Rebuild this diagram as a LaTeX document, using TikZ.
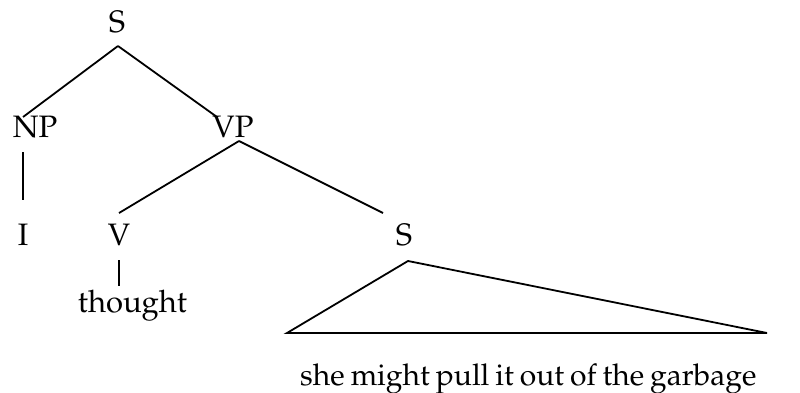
\documentclass[tikz,border=0pt]{standalone}
\usepackage[T1]{fontenc}
\usepackage{mathpazo}
\begin{document}
\begin{tikzpicture}[x=1pt,y=-1pt,
  lbl/.style={inner sep=0pt,anchor=base,font=\fontsize{31}{37}\selectfont},
  edge/.style={line width=1.8pt}]
\useasboundingbox (0,0) rectangle (800,393);
\node[lbl] (s0) at (117,33) {S};
\node[lbl] (np) at (35,138) {NP};
\node[lbl] (vp) at (233,138) {VP};
\node[lbl] (i) at (23,245) {I};
\node[lbl] (v) at (119,245) {V};
\node[lbl] (s1) at (404,245) {S};
\node[lbl] (th) at (132.5,312) {thought};
\node[lbl,anchor=base west,font=\fontsize{30}{36}\selectfont] (txt) at (300,385) {\spaceskip=6pt she might pull it out of the garbage};
\coordinate (apex) at (408,261);
\coordinate (tl) at (287,333);
\coordinate (tr) at (767,333);
\draw[edge] ([shift={(1,13)}]s0.base) -- ([shift={(-12,-21)}]np.base);
\draw[edge] ([shift={(1,13)}]s0.base) -- ([shift={(-16,-21)}]vp.base);
\draw[edge] ([shift={(-12,14)}]np.base) -- ([shift={(0,-45)}]i.base);
\draw[edge] ([shift={(6,3)}]vp.base) -- ([shift={(0,-32)}]v.base);
\draw[edge] ([shift={(6,3)}]vp.base) -- ([shift={(-21,-32)}]s1.base);
\draw[edge] ([shift={(0,15)}]v.base) -- ([shift={(-13.5,-26)}]th.base);
\draw[edge,line join=miter] (apex) -- (tl) -- (tr) -- cycle;
\end{tikzpicture}
\end{document}
